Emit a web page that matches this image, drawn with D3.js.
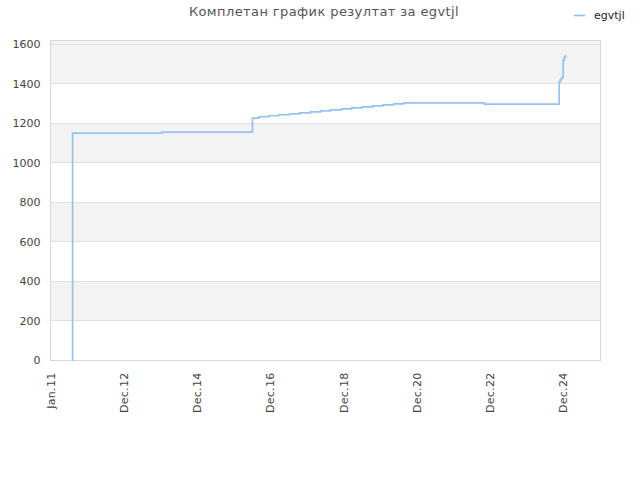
<!DOCTYPE html>
<html>
<head>
<meta charset="utf-8">
<script src="https://cdn.jsdelivr.net/npm/d3@7"></script>
<style>
  html, body { margin: 0; padding: 0; background: #fff; }
  svg { display: block; font-family: "DejaVu Sans", sans-serif; }
</style>
</head>
<body>
<svg id="chart" width="640" height="480"></svg>
<script>
// step series: date of change -> value
const DATES = [
  "2011-08-08", "2011-08-09", "2014-01-17", "2016-07-05", "2016-09-06", "2016-12-15",
  "2017-03-24", "2017-07-12", "2017-10-19", "2018-02-03", "2018-05-14", "2018-08-21",
  "2018-12-09", "2019-03-19", "2019-07-03", "2019-10-17", "2020-01-24", "2020-05-13",
  "2020-08-21", "2022-11-01", "2024-11-15", "2024-11-25", "2024-12-05", "2024-12-15",
  "2024-12-25", "2025-01-06", "2025-01-17"
];
const VALUES = [
  0, 1151, 1156, 1227, 1234, 1239,
  1244, 1249, 1254, 1259, 1264, 1269,
  1274, 1279, 1284, 1289, 1294, 1299,
  1304, 1298, 1411, 1420, 1427, 1433,
  1521, 1536, 1546
];
const X_TICKS = ["2011-01-01", "2012-12-31", "2014-12-31", "2016-12-30", "2018-12-30", "2020-12-29", "2022-12-29", "2024-12-28"];
const X_LABELS = ["Jan.11", "Dec.12", "Dec.14", "Dec.16", "Dec.18", "Dec.20", "Dec.22", "Dec.24"];
const Y_TICKS = [0, 200, 400, 600, 800, 1000, 1200, 1400, 1600];
const SERIES_NAME = "egvtjl";
const TITLE = "Комплетан график резултат за egvtjl";

const parse = d3.utcParse("%Y-%m-%d");
const data = DATES.map((d, i) => ({ date: parse(d), value: VALUES[i] }));

const svg = d3.select("#chart");
const m = { t: 40, r: 40, b: 120, l: 50 };
const W = 640, H = 480, iw = W - m.l - m.r, ih = H - m.t - m.b;

const x = d3.scaleUtc().domain([parse("2011-01-01"), parse("2026-01-01")]).range([0, iw]);
const y = d3.scaleLinear().domain([0, 1620]).range([ih, 0]);

const g = svg.append("g").attr("transform", `translate(${m.l + 0.5},${m.t + 0.5})`);

// alternating bands
const bands = d3.range(0, Y_TICKS.length).map(i => [Y_TICKS[i], i + 1 < Y_TICKS.length ? Y_TICKS[i + 1] : y.domain()[1]]);
g.selectAll("rect.band").data(bands.filter((b, i) => i % 2 === 1)).join("rect")
  .attr("class", "band").attr("x", 0).attr("width", iw)
  .attr("y", b => y(b[1])).attr("height", b => y(b[0]) - y(b[1]))
  .attr("fill", "#f3f3f3");
g.append("rect").attr("x", 0).attr("width", iw).attr("y", 0).attr("height", y(1600))
  .attr("fill", "#f3f3f3");

// gridlines
g.selectAll("line.grid").data(Y_TICKS).join("line").attr("class", "grid")
  .attr("x1", 0).attr("x2", iw).attr("y1", d => Math.round(y(d))).attr("y2", d => Math.round(y(d)))
  .attr("stroke", "#e0e0e0").attr("stroke-width", 1);

// frame
g.append("rect").attr("x", 0).attr("y", 0).attr("width", iw).attr("height", ih)
  .attr("fill", "none").attr("stroke", "#d9d9d9").attr("stroke-width", 1);

// y labels
g.selectAll("text.ylab").data(Y_TICKS).join("text").attr("class", "ylab")
  .attr("x", -10).attr("y", d => y(d)).attr("dy", "0.35em")
  .attr("text-anchor", "end").attr("font-size", 11).attr("fill", "#444")
  .text(d => d);

// x labels (rotated)
g.selectAll("text.xlab").data(X_TICKS).join("text").attr("class", "xlab")
  .attr("transform", (d, i) => `translate(${x(parse(d)) + 4},${ih + 12}) rotate(-90)`)
  .attr("text-anchor", "end").attr("font-size", 11).attr("fill", "#444")
  .attr("letter-spacing", 0.3)
  .text((d, i) => X_LABELS[i]);

// series
const line = d3.line().x(d => x(d.date)).y(d => y(d.value)).curve(d3.curveStepAfter);
g.append("path").datum(data).attr("d", line)
  .attr("fill", "none").attr("stroke", "#93c3f3").attr("stroke-width", 1.7);

// title
svg.append("text").attr("x", 324).attr("y", 16).attr("text-anchor", "middle")
  .attr("font-size", 13).attr("fill", "#555").attr("letter-spacing", 0.4).text(TITLE);

// legend
svg.append("line").attr("x1", 574).attr("x2", 585).attr("y1", 15.5).attr("y2", 15.5)
  .attr("stroke", "#93c3f3").attr("stroke-width", 1.7);
svg.append("text").attr("x", 594).attr("y", 19).attr("font-size", 11).attr("fill", "#222").text(SERIES_NAME);
</script>
</body>
</html>
